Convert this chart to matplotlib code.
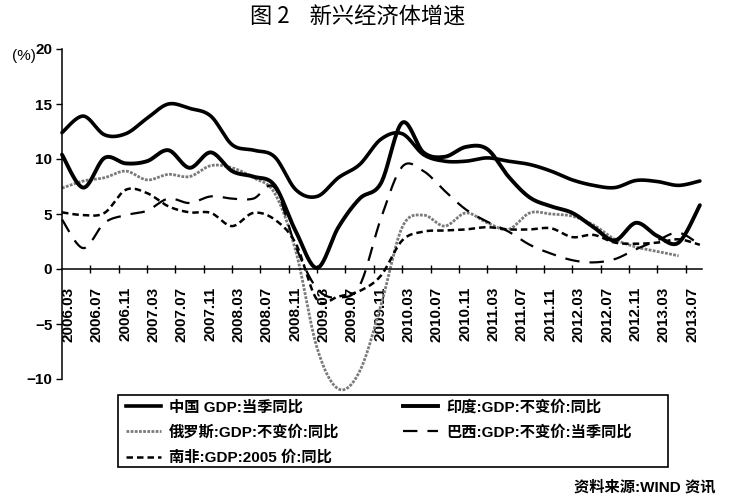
import numpy as np
import matplotlib
matplotlib.use('Agg')
import matplotlib.pyplot as plt
from matplotlib.lines import Line2D
from matplotlib.patches import Rectangle

plt.rcParams['font.family'] = ['Liberation Sans', 'Noto Sans CJK SC']

# quarterly observations 2006Q1 .. 2013Q3 (months since 2006.03)
months = [0, 3, 6, 9, 12, 15, 18, 21, 24, 27, 30, 33, 36, 39, 42, 45,
          48, 51, 54, 57, 60, 63, 66, 69, 72, 75, 78, 81, 84, 87, 90]

china = [12.4, 13.9, 12.2, 12.3, 13.7, 15.0, 14.6, 13.9, 11.3, 10.8, 10.2,
         7.2, 6.6, 8.3, 9.5, 11.8, 12.3, 10.4, 9.8, 9.8, 10.1, 9.8, 9.5,
         8.9, 8.1, 7.6, 7.4, 8.05, 7.95, 7.6, 8.0]
india = [10.4, 7.4, 10.1, 9.6, 9.8, 10.8, 9.2, 10.6, 8.9, 8.4, 7.6,
         3.4, 0.1, 3.8, 6.4, 7.8, 13.3, 10.6, 10.2, 11.1, 10.9, 8.4, 6.5,
         5.7, 5.1, 3.8, 2.6, 4.2, 3.0, 2.4, 5.8]
russia = [7.35, 8.0, 8.3, 8.9, 8.1, 8.6, 8.4, 9.4, 9.2, 8.3, 6.9,
          1.6, -7.2, -10.9, -9.3, -3.3, 3.8, 4.9, 3.9, 5.1, 4.2, 3.6, 5.1,
          5.0, 4.8, 4.0, 2.7, 2.0, 1.6, 1.2]
brazil = [4.5, 1.9, 4.2, 4.9, 5.3, 6.4, 6.0, 6.6, 6.4, 6.4, 7.4,
          2.0, -1.8, -2.6, -1.5, 4.6, 9.3, 8.9, 7.1, 5.4, 4.3, 3.4, 2.2,
          1.4, 0.8, 0.6, 0.9, 1.8, 2.6, 3.3, 2.2]
safrica = [5.15, 4.9, 5.1, 7.2, 6.9, 5.7, 5.15, 5.1, 3.9, 5.1, 4.5,
           2.3, -2.8, -2.5, -2.0, -0.6, 2.6, 3.4, 3.5, 3.6, 3.8, 3.6, 3.6,
           3.7, 2.9, 3.1, 2.4, 2.3, 2.4, 2.7, 2.2]

tick_labels = ['2006.03', '2006.07', '2006.11', '2007.03', '2007.07', '2007.11',
               '2008.03', '2008.07', '2008.11', '2009.03', '2009.07', '2009.11',
               '2010.03', '2010.07', '2010.11', '2011.03', '2011.07', '2011.11',
               '2012.03', '2012.07', '2012.11', '2013.03', '2013.07']

labels = ['中国 GDP:当季同比', '俄罗斯:GDP:不变价:同比', '南非:GDP:2005 价:同比',
          '印度:GDP:不变价:同比', '巴西:GDP:不变价:当季同比']


def smooth(x, y, n=24):
    """Excel-like smoothed line (Catmull-Rom Bezier) through the points."""
    p = np.column_stack([x, y]).astype(float)
    ext = np.vstack([p[0], p, p[-1]])
    out = []
    t = np.linspace(0, 1, n)[:, None]
    for i in range(len(p) - 1):
        p0, p1, p2, p3 = ext[i], ext[i + 1], ext[i + 2], ext[i + 3]
        c1 = p1 + (p2 - p0) / 6.0
        c2 = p2 - (p3 - p1) / 6.0
        seg = ((1 - t) ** 3) * p1 + 3 * ((1 - t) ** 2) * t * c1 + 3 * (1 - t) * t ** 2 * c2 + t ** 3 * p2
        out.append(seg if i == 0 else seg[1:])
    s = np.vstack(out)
    return s[:, 0], s[:, 1]


fig = plt.figure(figsize=(7.35, 5.0), dpi=100)
ax = fig.add_axes([62 / 735, 121 / 500, 640 / 735, 330 / 500])

styles = {
    'china': dict(color='black', lw=2.6, ls='-'),
    'russia': dict(color='#7a7a7a', lw=2.0, ls=(0, (1.0, 0.5))),
    'safrica': dict(color='black', lw=1.8, ls=(0, (2.6, 1.6))),
    'india': dict(color='black', lw=2.8, ls='-'),
    'brazil': dict(color='black', lw=1.6, ls=(0, (6.5, 4.5))),
}
series = {'china': china, 'russia': russia, 'safrica': safrica,
          'india': india, 'brazil': brazil}

handles = []
for key in ['china', 'russia', 'safrica', 'india', 'brazil']:
    vals = series[key]
    xs, ys = smooth(months[:len(vals)], vals)
    ax.plot(xs, ys, **styles[key], solid_capstyle='round', dash_capstyle='butt',
            clip_on=False)
    handles.append(Line2D([], [], **styles[key]))

ax.set_xlim(0, 90.3)
ax.set_ylim(-10, 20)
for s in ['top', 'right']:
    ax.spines[s].set_visible(False)
ax.spines['bottom'].set_position(('data', 0))
ax.spines['bottom'].set_linewidth(1.1)
ax.spines['left'].set_linewidth(1.1)

ax.set_yticks([-10, -5, 0, 5, 10, 15, 20])
ax.set_yticklabels(['\u221210', '\u22125', '0', '5', '10', '15', '20'])
ax.tick_params(axis='y', direction='out', length=4, width=1.0, pad=3,
               labelsize=11)

major = [4 * k + 0.9 for k in range(len(tick_labels))]
ax.set_xticks(major)
ax.set_xticklabels(tick_labels, rotation=90, fontsize=11)
ax.set_xticks([4 * k for k in range(1, len(tick_labels))], minor=True)
ax.tick_params(axis='x', which='major', length=0, pad=13)
ax.tick_params(axis='x', which='minor', direction='inout', length=6, width=1.0)
for lab in ax.get_xticklabels() + ax.get_yticklabels():
    lab.set_fontweight('bold')

fig.text(36 / 735, 1 - 56 / 500, '(%)', fontsize=11, va='center', ha='right')

fig.text(358 / 735, 1 - 17 / 500, '图 2    新兴经济体增速', fontsize=16,
         ha='center', va='center', family=['Noto Sans CJK SC'])

# legend box frame
fig.add_artist(Rectangle((118 / 735, 1 - 467 / 500), 550 / 735, 72 / 500,
                         transform=fig.transFigure, fill=False,
                         edgecolor='black', linewidth=1.2))
leg = fig.legend(handles, labels, loc='upper left',
                 bbox_to_anchor=(126 / 735, 1 - 400 / 500),
                 ncol=2, frameon=False, borderaxespad=0, borderpad=0,
                 fontsize=11, handlelength=2.3, handletextpad=0.5,
                 labelspacing=0.68, columnspacing=4.2)
for t in leg.get_texts():
    t.set_fontweight('bold')

fig.text(715 / 735, 1 - 487 / 500, '资料来源:WIND 资讯', fontsize=11,
         ha='right', va='center', fontweight='bold')

fig.savefig('out.png', dpi=100)
